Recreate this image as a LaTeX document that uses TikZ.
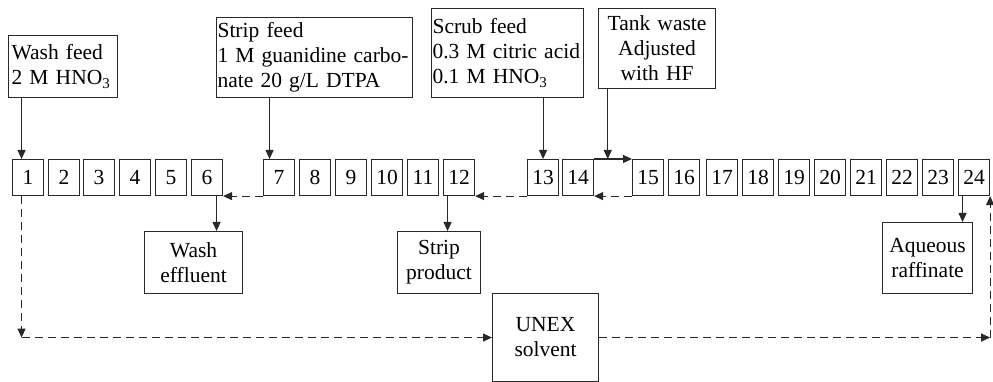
\documentclass[tikz,border=0pt]{standalone}
\usepackage{fontspec}
\setmainfont{Liberation Serif}
\usetikzlibrary{arrows.meta, positioning, calc}
\definecolor{cLine}{RGB}{40,40,40}
\tikzset{
	stage/.style={rectangle, draw=cLine, line width=1.1pt, minimum width=31pt, minimum height=36pt, inner sep=0pt, text centered, anchor=north west},
	feedbox/.style={rectangle, draw=cLine, line width=1.1pt, inner sep=3pt, align=left, anchor=north west},
	outbox/.style={rectangle, draw=cLine, line width=1.1pt, inner sep=2pt, align=center, anchor=north west},
	flowarrow/.style={-{Triangle[length=9pt, width=8pt]}, line width=1.1pt, draw=cLine},
	recycle/.style={flowarrow, dash pattern=on 8pt off 5pt},
}

\begin{document}
\begin{tikzpicture}[x=1pt, y=-1pt, font=\fontsize{21.5}{25}\selectfont]
	\useasboundingbox (0,0) rectangle (993,382);
	% contactor stages
	\foreach \x [count=\i] in {12,48,83,119,155,191,263,299,335,371,407,443,527,562,632,668,706,742,778,814,850,886,922,958}
		\node[stage] (s\i) at (\x,159) {\i};
	% feeds
	\node[feedbox, minimum width=109pt, minimum height=62pt, text width=103pt] (wash) at (8,35) {Wash feed\\2 M HNO\textsubscript{3}};
	\node[feedbox, minimum width=196pt, minimum height=80pt, text width=194pt, inner xsep=1pt] (strip) at (216,17) {Strip feed\\1~M~guanidine~carbo-\\nate 20 g/L DTPA};
	\node[feedbox, minimum width=152pt, minimum height=89pt, text width=150pt, inner xsep=1pt] (scrub) at (431,8) {Scrub feed\\0.3 M citric acid\\0.1 M HNO\textsubscript{3}};
	\node[feedbox, align=center, minimum width=117pt, minimum height=80pt, text width=111pt] (tank) at (598,8) {Tank waste\\Adjusted\\with HF};
	% products
	\node[outbox, minimum width=98pt, minimum height=62pt] (washout) at (144,231) {Wash\\effluent};
	\node[outbox, minimum width=83pt, minimum height=62pt] (stripout) at (397,231) {Strip\\product};
	\node[outbox, minimum width=90pt, minimum height=71pt] (raff) at (882,222) {Aqueous\\raffinate};
	\node[outbox, minimum width=106pt, minimum height=88pt] (unex) at (492,293) {UNEX\\solvent};
	% feed lines
	\draw[flowarrow] ([xshift=-6.5pt]s1.north |- wash.south) -- ([xshift=-6.5pt]s1.north);
	\draw[flowarrow] ([xshift=-9.5pt]s7.north |- strip.south) -- ([xshift=-9.5pt]s7.north);
	\draw[flowarrow] (s13.north |- scrub.south) -- (s13.north);
	\coordinate (inlet) at ($(s14.north east)!0.36!(s15.north west)$);
	\draw[flowarrow] (inlet |- tank.south) -- (inlet);
	\draw[flowarrow] (s14.north east) -- (s15.north west);
	% solvent between sections
	\draw[recycle] (s7.south west) -- (s6.south east);
	\draw[recycle] (s13.south west) -- (s12.south east);
	\draw[recycle] (s15.south west) -- (s14.south east);
	% product lines
	\draw[flowarrow] ([xshift=9.5pt]s6.south) -- ([xshift=9.5pt]s6.south |- washout.north);
	\draw[flowarrow] ([xshift=-11.5pt]s12.south) -- ([xshift=-11.5pt]s12.south |- stripout.north);
	\draw[flowarrow] ([xshift=-11.5pt]s24.south) -- ([xshift=-11.5pt]s24.south |- raff.north);
	% solvent recycle
	\coordinate (c1) at ([xshift=-6.5pt]s1.south |- unex.west);
	\coordinate (c2) at (s24.south east |- unex.east);
	\draw[recycle] ([xshift=-6.5pt]s1.south) -- (c1);
	\draw[recycle] (c1) -- (unex.west);
	\draw[recycle] (unex.east) -- (c2);
	\draw[recycle] (c2) -- (s24.south east);
\end{tikzpicture}
\end{document}
